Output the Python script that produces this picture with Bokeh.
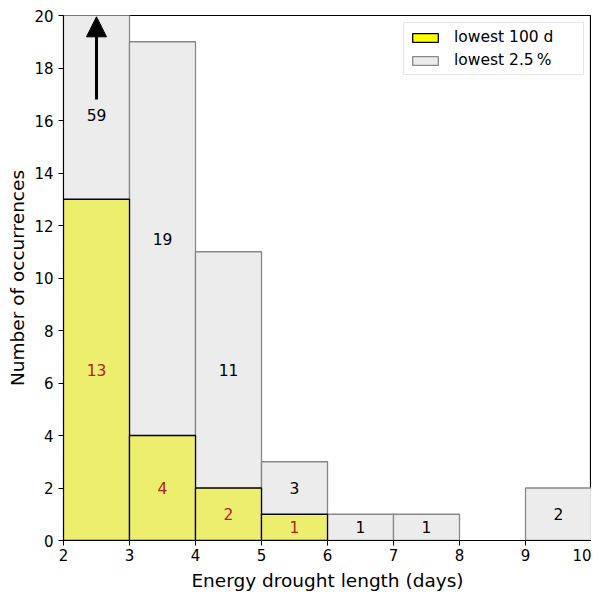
from bokeh.plotting import figure
from bokeh.models import Arrow, NormalHead, Legend, LegendItem, Range1d, FixedTicker
from bokeh.core.properties import value
from bokeh.embed import file_html
from bokeh.resources import INLINE

left = [2, 3, 4, 5, 6, 7, 8, 9]
right = [3, 4, 5, 6, 7, 8, 9, 10]
counts_25 = [59, 19, 11, 3, 1, 1, 0, 2]
counts_100 = [13, 4, 2, 1, 0, 0, 0, 0]
ymax = 20

FONT = "DejaVu Sans"

p = figure(frame_width=528, frame_height=525, output_backend="svg", toolbar_location=None,
           x_range=Range1d(2, 10), y_range=Range1d(0, ymax),
           min_border_left=63, min_border_right=0, min_border_top=15, min_border_bottom=45)
p.background_fill_color = "white"
p.border_fill_color = "white"
p.outline_line_color = "black"
p.outline_line_width = 1.2
p.xgrid.visible = False
p.ygrid.visible = False

gl = [l for l, c in zip(left, counts_25) if c > 0]
gr = [r for r, c in zip(right, counts_25) if c > 0]
gc = [min(c, ymax + 1) for c in counts_25 if c > 0]
gray = p.quad(left=gl, right=gr, bottom=0, top=gc, fill_color="#ececec",
              line_color="#888888", line_width=1.3)

yl = [l for l, c in zip(left, counts_100) if c > 0]
yr = [r for r, c in zip(right, counts_100) if c > 0]
yc = [c for c in counts_100 if c > 0]
yel = p.quad(left=yl, right=yr, bottom=0, top=yc, fill_color="#eeee6e",
             line_color="black", line_width=1.3)

leg_y = p.quad(left=[0], right=[0], bottom=[0], top=[0], fill_color="yellow", line_color="black", line_width=1.3)
leg_g = p.quad(left=[0], right=[0], bottom=[0], top=[0], fill_color="#ececec", line_color="#888888", line_width=1.3)

tx, ty, tt = [], [], []
for l, r, c, c1 in zip(left, right, counts_25, counts_100):
    if 0 < c <= ymax:
        tx.append((l + r) / 2); ty.append((c + c1) / 2); tt.append(str(c))
p.text(x=tx, y=ty, text=tt, text_align="center", text_baseline="middle",
       text_font=value(FONT), text_font_size="15.5px", text_color="black")

clip_x = [(l + r) / 2 for l, r, c in zip(left, right, counts_25) if c > ymax]
clip_t = [str(c) for c in counts_25 if c > ymax]
p.text(x=clip_x, y=[16.2] * len(clip_x), text=clip_t, text_align="center", text_baseline="middle",
       text_font=value(FONT), text_font_size="15.5px", text_color="black")
for cx in clip_x:
    p.add_layout(Arrow(end=NormalHead(size=20, fill_color="black", line_color="black"),
                       x_start=cx, y_start=16.8, x_end=cx, y_end=19.95,
                       line_width=3, line_color="black"))

yx = [(l + r) / 2 for l, r, c in zip(left, right, counts_100) if c > 0]
yy = [c / 2 for c in counts_100 if c > 0]
yt = [str(c) for c in counts_100 if c > 0]
p.text(x=yx, y=yy, text=yt, text_align="center", text_baseline="middle",
       text_font=value(FONT), text_font_size="15.5px", text_color="#b22222")

legend = Legend(items=[LegendItem(label="lowest 100 d", renderers=[leg_y]),
                       LegendItem(label="lowest 2.5\u2009%", renderers=[leg_g])],
                location="top_right")
legend.label_text_font = FONT
legend.label_text_font_size = "15.5px"
legend.label_text_color = "black"
legend.border_line_color = "#d0d0d0"
legend.border_line_width = 1
legend.background_fill_alpha = 0.9
legend.glyph_width = 32
legend.glyph_height = 11
legend.label_height = 18
legend.label_width = 124
legend.label_standoff = 13
legend.spacing = 5
legend.padding = 5
legend.margin = 7
p.add_layout(legend)

p.xaxis.axis_label = "Energy drought length (days)"
p.yaxis.axis_label = "Number of occurrences"
for ax in (p.xaxis[0], p.yaxis[0]):
    ax.axis_label_text_font = FONT
    ax.axis_label_text_font_size = "18.5px"
    ax.axis_label_text_font_style = "normal"
    ax.axis_label_text_color = "black"
    ax.major_label_text_font = FONT
    ax.major_label_text_font_size = "15px"
    ax.major_label_text_color = "black"
    ax.axis_line_color = "black"
    ax.major_tick_line_color = "black"
    ax.major_tick_out = 5
    ax.major_tick_in = 0
    ax.minor_tick_line_color = None
p.xaxis[0].major_label_standoff = 3
p.xaxis[0].axis_label_standoff = 6
p.yaxis[0].axis_label_standoff = 3
p.xaxis.ticker = FixedTicker(ticks=list(range(2, 11)))
p.yaxis.ticker = FixedTicker(ticks=list(range(0, 21, 2)))

open("out.html", "w").write(file_html(p, INLINE))
